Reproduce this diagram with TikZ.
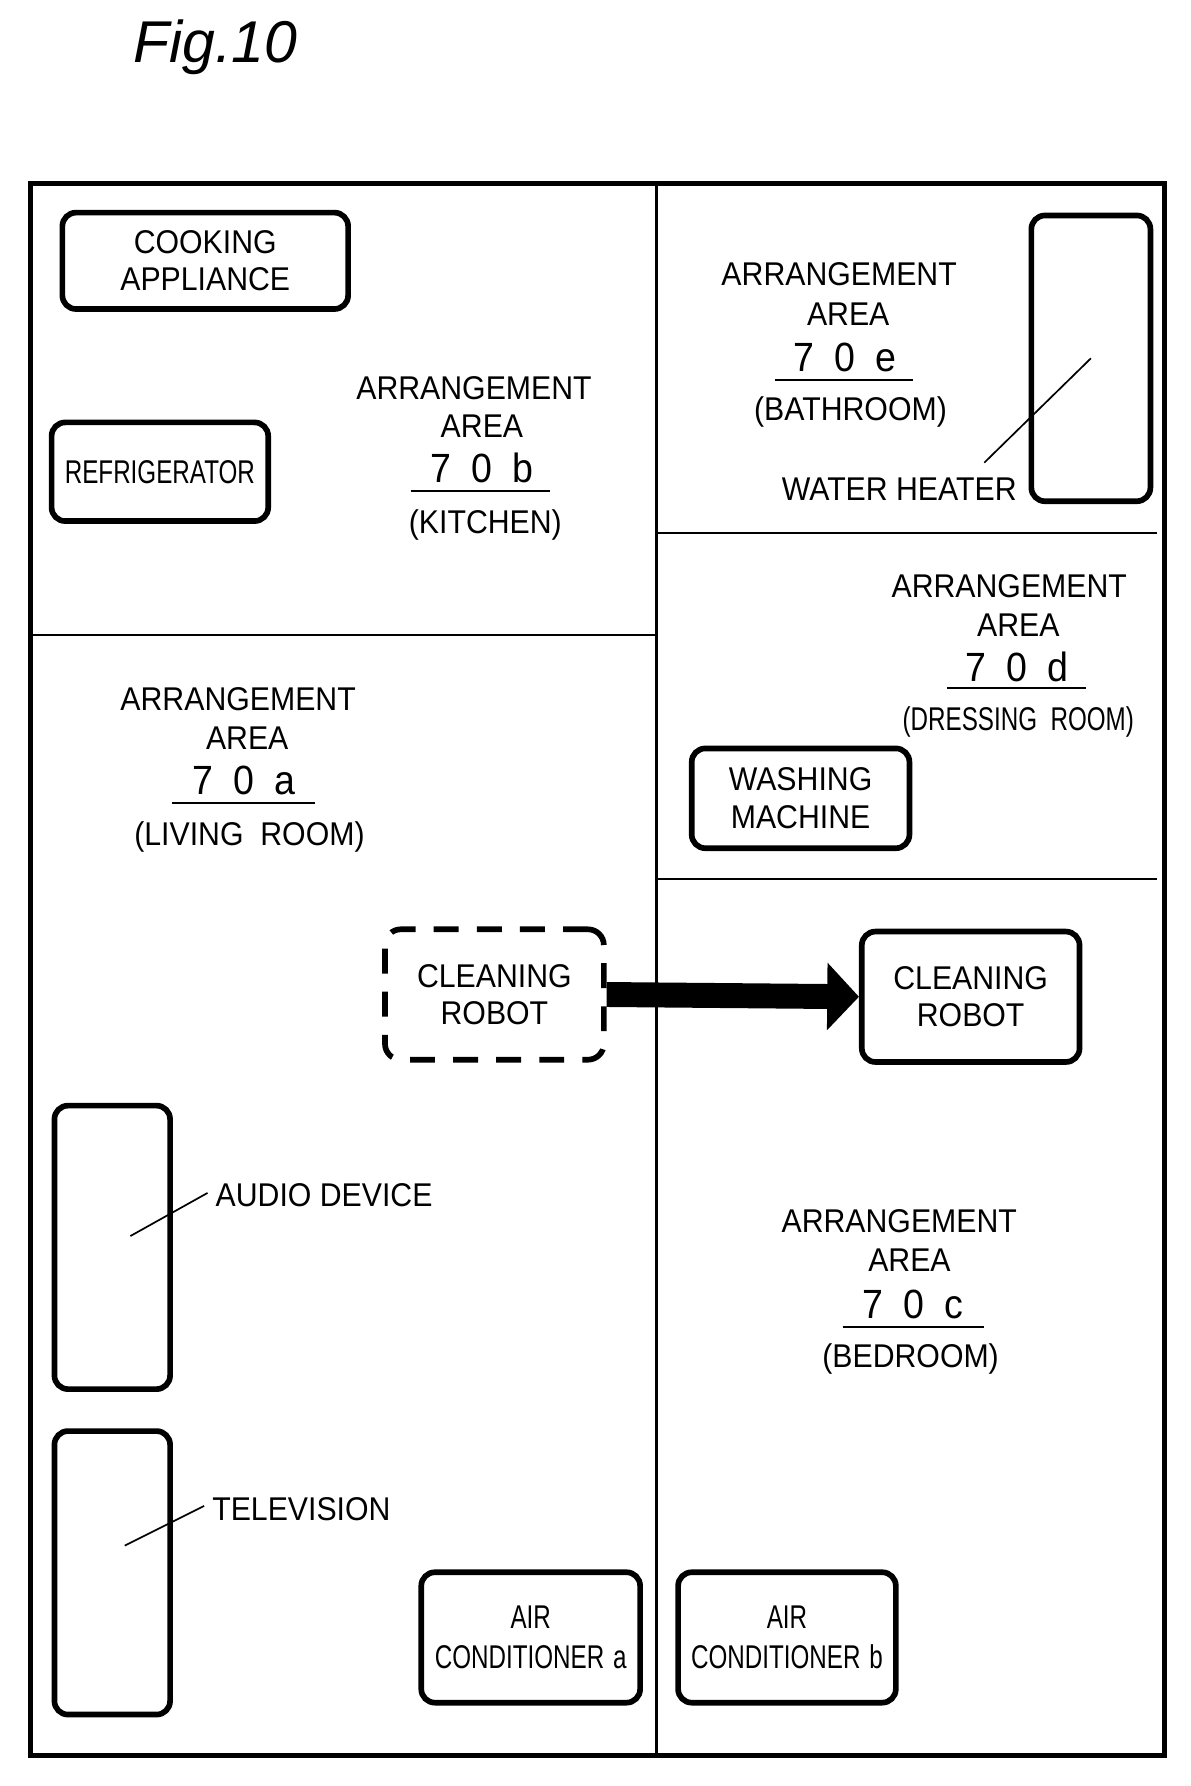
\documentclass[tikz,border=0pt]{standalone}
\usepackage{fontspec}
\usepackage{graphicx}
\setmainfont{Liberation Sans}[FakeStretch=0.92]
\newfontfamily\titlefont{Liberation Sans}
\usetikzlibrary{arrows.meta}
\newcommand{\narrowtxt}[1]{\scalebox{0.8}[1]{#1}}
\begin{document}
\begin{tikzpicture}[x=1pt,y=-1pt,
 box/.style={draw,line width=5pt,rounded corners=12pt},
 t/.style={font=\fontsize{29}{33}\selectfont,inner sep=0pt,align=center},
 num/.style={font=\fontsize{36}{40}\selectfont,inner sep=0pt},
 ul/.style={line width=1.5pt}]
\useasboundingbox (0,0) rectangle (1050,1575);
\node[font=\titlefont\itshape\fontsize{52}{56}\selectfont] (title) at (190,42) {Fig.10};
% walls
\draw[line width=4pt] (27,162) rectangle (1027,1548);
\draw[line width=2pt] (579,162) -- (579,1548);
\draw[line width=2pt] (27,560) -- (579,560);
\draw[line width=2pt] (579,470) -- (1020,470);
\draw[line width=2pt] (579,775) -- (1020,775);
% appliances
\node[box,minimum width=252,minimum height=85,t] (cook) at (181,230) {COOKING\\APPLIANCE};
\node[box,minimum width=191,minimum height=87,t] (fridge) at (141,416) {\narrowtxt{REFRIGERATOR}};
\node[box,minimum width=105,minimum height=252] (heater) at (962,316) {};
\node[box,minimum width=192,minimum height=88,t] (wash) at (706,704) {WASHING\\MACHINE};
\node[draw,line width=5pt,dash pattern=on 22pt off 16pt,rounded corners=14pt,minimum width=193,minimum height=115,t] (robot1) at (436,877) {CLEANING\\ROBOT};
\node[box,minimum width=192,minimum height=115,t] (robot2) at (856,879) {CLEANING\\ROBOT};
\node[box,minimum width=102,minimum height=250] (audio) at (99,1100) {};
\node[box,minimum width=102,minimum height=250] (tv) at (99,1387) {};
\node[box,minimum width=193,minimum height=115,t,text width=180] (aca) at (468,1444) {\narrowtxt{AIR}\\[2pt]\narrowtxt{CONDITIONER a}};
\node[box,minimum width=192,minimum height=115,t,text width=180] (acb) at (694,1444) {\narrowtxt{AIR}\\[2pt]\narrowtxt{CONDITIONER b}};
% arrow
\draw[line width=22pt,-{Triangle[length=28pt,width=58pt]}] (robot1.east) -- (robot2.west);
% area labels
\node[t] (b1) at (418,342) {ARRANGEMENT};
\node[t] (b2) at (425,376) {AREA};
\node[num] (b3) at (425,413) {7\,\,\,0\,\,\,b};
\draw[ul] (362,433) -- (485,433);
\node[t] (b4) at (428,463) {(KITCHEN)};
\node[t] (e1) at (740,242) {ARRANGEMENT};
\node[t] (e2) at (748,277) {AREA};
\node[num] (e3) at (745,315) {7\,\,\,0\,\,\,e};
\draw[ul] (683,335) -- (805,335);
\node[t] (e4) at (750,363) {(BATHROOM)};
\node[t] (wh) at (793,431) {WATER HEATER};
\coordinate (whs) at (868,408);
\draw[line width=1.5pt] (whs) -- (heater.center);
\node[t] (d1) at (890,517) {ARRANGEMENT};
\node[t] (d2) at (898,551) {AREA};
\node[num] (d3) at (897,588) {7\,\,\,0\,\,\,d};
\draw[ul] (835,607) -- (958,607);
\node[t] (d4) at (898,637) {\narrowtxt{(DRESSING\ \ ROOM)}};
\node[t] (a1) at (210,617) {ARRANGEMENT};
\node[t] (a2) at (218,651) {AREA};
\node[num] (a3) at (215,688) {7\,\,\,0\,\,\,a};
\draw[ul] (152,708) -- (278,708);
\node[t] (a4) at (220,738) {(LIVING\ \ ROOM)};
\node[t] (c1) at (793,1077) {ARRANGEMENT};
\node[t] (c2) at (802,1111) {AREA};
\node[num] (c3) at (805,1150) {7\,\,\,0\,\,\,c};
\draw[ul] (743,1170) -- (868,1170);
\node[t] (c4) at (803,1198) {(BEDROOM)};
\node[t,anchor=west] (ad) at (190,1054) {AUDIO DEVICE};
\coordinate (ads) at (115,1090);
\draw[line width=1.5pt] (ads) -- (183,1052);
\node[t,anchor=west] (tvl) at (187,1331) {TELEVISION};
\coordinate (tvs) at (110,1363);
\draw[line width=1.5pt] (tvs) -- (180,1328);
\end{tikzpicture}
\end{document}
